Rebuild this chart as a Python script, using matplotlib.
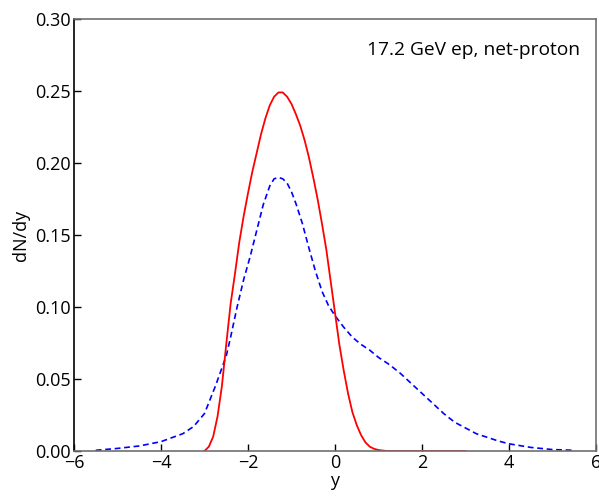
import numpy as np
from matplotlib import pyplot as plt

plt.rcParams['font.family'] = ['Open Sans', 'DejaVu Sans']

# net-proton rapidity distributions
y_red = [-3.0, -2.9, -2.8, -2.7, -2.6, -2.5, -2.4, -2.3, -2.2, -2.1, -2.0,
         -1.9, -1.8, -1.7, -1.6, -1.5, -1.4, -1.3, -1.2, -1.1, -1.0,
         -0.9, -0.8, -0.7, -0.6, -0.5, -0.4, -0.3, -0.2, -0.1, 0.0,
         0.1, 0.2, 0.3, 0.4, 0.5, 0.6, 0.7, 0.8, 0.9, 1.0,
         1.1, 1.2, 1.5, 2.0, 2.5, 3.0]
dn_red = [0.0, 0.003, 0.010, 0.024, 0.045, 0.074, 0.102, 0.123, 0.145, 0.163, 0.179,
          0.194, 0.207, 0.220, 0.231, 0.240, 0.246, 0.249, 0.249, 0.246, 0.241,
          0.234, 0.226, 0.216, 0.204, 0.190, 0.175, 0.158, 0.140, 0.118, 0.096,
          0.074, 0.056, 0.040, 0.027, 0.018, 0.011, 0.006, 0.003, 0.0015, 0.0007,
          0.0003, 0.0, 0.0, 0.0, 0.0, 0.0]

y_blue = [-5.5, -5.0, -4.5, -4.0, -3.5, -3.25, -3.0, -2.75, -2.5, -2.4, -2.25,
          -2.1, -1.95, -1.8, -1.65, -1.5, -1.4, -1.3, -1.2, -1.1, -1.0,
          -0.9, -0.75, -0.6, -0.45, -0.3, -0.15, 0.0, 0.2, 0.4, 0.6,
          0.8, 1.0, 1.25, 1.5, 1.75, 2.0, 2.25, 2.5, 2.75, 3.0,
          3.25, 3.5, 3.75, 4.0, 4.5, 5.0, 5.5]
dn_blue = [0.0005, 0.0018, 0.0035, 0.0065, 0.012, 0.017, 0.026, 0.045, 0.066, 0.079, 0.100,
           0.119, 0.135, 0.153, 0.171, 0.184, 0.189, 0.190, 0.189, 0.186, 0.180,
           0.172, 0.158, 0.141, 0.125, 0.111, 0.101, 0.094, 0.086, 0.079, 0.074,
           0.070, 0.065, 0.060, 0.054, 0.047, 0.040, 0.033, 0.026, 0.020, 0.016,
           0.012, 0.0095, 0.007, 0.005, 0.0025, 0.001, 0.0005]

xticks = [-6, -4, -2, 0, 2, 4, 6]
yticks = [0.00, 0.05, 0.10, 0.15, 0.20, 0.25, 0.30]

fig = plt.figure(figsize=(5.99, 4.96), dpi=100)
ax = fig.add_axes([0.1235, 0.0907, 0.8715, 0.871])

ax.plot(y_blue, dn_blue, color='blue', lw=1.2, ls=(0, (3.5, 2.2)))
ax.plot(y_red, dn_red, color='red', lw=1.3)

ax.set_xlim(-6, 6)
ax.set_ylim(0, 0.30)
ax.set_xticks(xticks)
ax.set_yticks(yticks)
ax.set_xticklabels(['\u22126', '\u22124', '\u22122', '0', '2', '4', '6'])
ax.set_yticklabels(['%.2f' % v for v in yticks])
ax.tick_params(direction='in', length=5, width=1, labelsize=13, pad=2)

ax.spines['left'].set_color('black')
for s in ['top', 'right', 'bottom']:
    ax.spines[s].set_color('#707070')
for s in ax.spines.values():
    s.set_linewidth(1.2)

ax.set_xlabel('y', fontsize=13, labelpad=0)
ax.set_ylabel('dN/dy', fontsize=13, labelpad=4)
ax.text(0.97, 0.95, '17.2 GeV ep, net-proton', transform=ax.transAxes,
        ha='right', va='top', fontsize=13.8)

fig.savefig('out.png', dpi=100)
